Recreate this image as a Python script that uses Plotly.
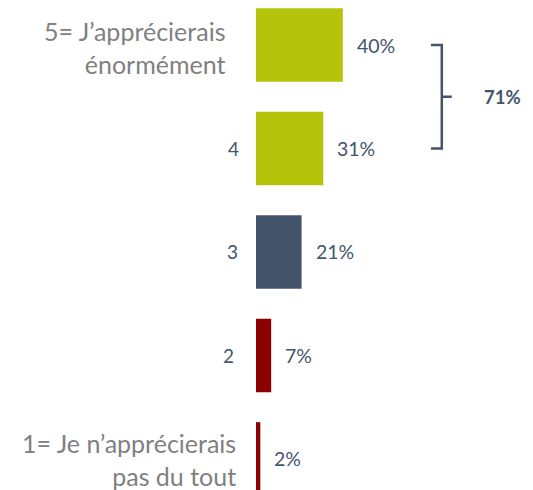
import plotly.graph_objects as go

categories = ["5= J’apprécierais<br>énormément", "4", "3", "2", "1= Je n’apprécierais<br>pas du tout"]
values = [40, 31, 21, 7, 2]
value_labels = ["40%", "31%", "21%", "7%", "2%"]
bar_colors = ["#B5C40B", "#B5C40B", "#44546A", "#8B0000", "#8B0000"]
label_colors = ["#808080", "#44546A", "#44546A", "#44546A", "#808080"]
label_sizes = [25, 19, 19, 19, 25]
label_shift = [-29, -15, -16, -20, -18]
label_yshift = [-2, 0, 0, 0, -1]
top2_label = "71%"

pos = list(range(len(categories)))

fig = go.Figure()
fig.add_trace(go.Bar(
    x=values, y=pos, orientation="h",
    marker=dict(color=bar_colors, line=dict(width=0)),
    width=0.712, hoverinfo="skip",
))

ann = []
for i, (c, v, t) in enumerate(zip(categories, values, value_labels)):
    ann.append(dict(x=0, y=i, xref="x", yref="y", text=c, showarrow=False,
                    xanchor="right", yanchor="middle", xshift=label_shift[i],
                    yshift=label_yshift[i], align="right",
                    font=dict(family="Lato", size=label_sizes[i], color=label_colors[i])))
    ann.append(dict(x=v, y=i, xref="x", yref="y", text=t, showarrow=False,
                    xanchor="left", yanchor="middle", xshift=12,
                    font=dict(family="Lato", size=19.5, color="#44546A")))

ann.append(dict(x=113.6, y=0.5, xref="x", yref="y", text="<b>" + top2_label + "</b>",
                showarrow=False, xanchor="center", yanchor="middle",
                font=dict(family="Lato", size=18.5, color="#44546A")))

shapes = [dict(type="path", xref="x", yref="y",
               path="M 80.6 0 L 85.6 0 L 85.6 1 L 80.6 1 M 85.6 0.5 L 90.2 0.5",
               line=dict(color="#44546A", width=2.5))]

fig.update_layout(
    width=533, height=490,
    margin=dict(l=248, r=0, t=0, b=0),
    paper_bgcolor="white", plot_bgcolor="white",
    showlegend=False,
    xaxis=dict(range=[0, 131.3], visible=False, fixedrange=True),
    yaxis=dict(range=[4.377, -0.3575], visible=False, fixedrange=True),
    annotations=ann, shapes=shapes,
)

fig.write_html("out.html")
